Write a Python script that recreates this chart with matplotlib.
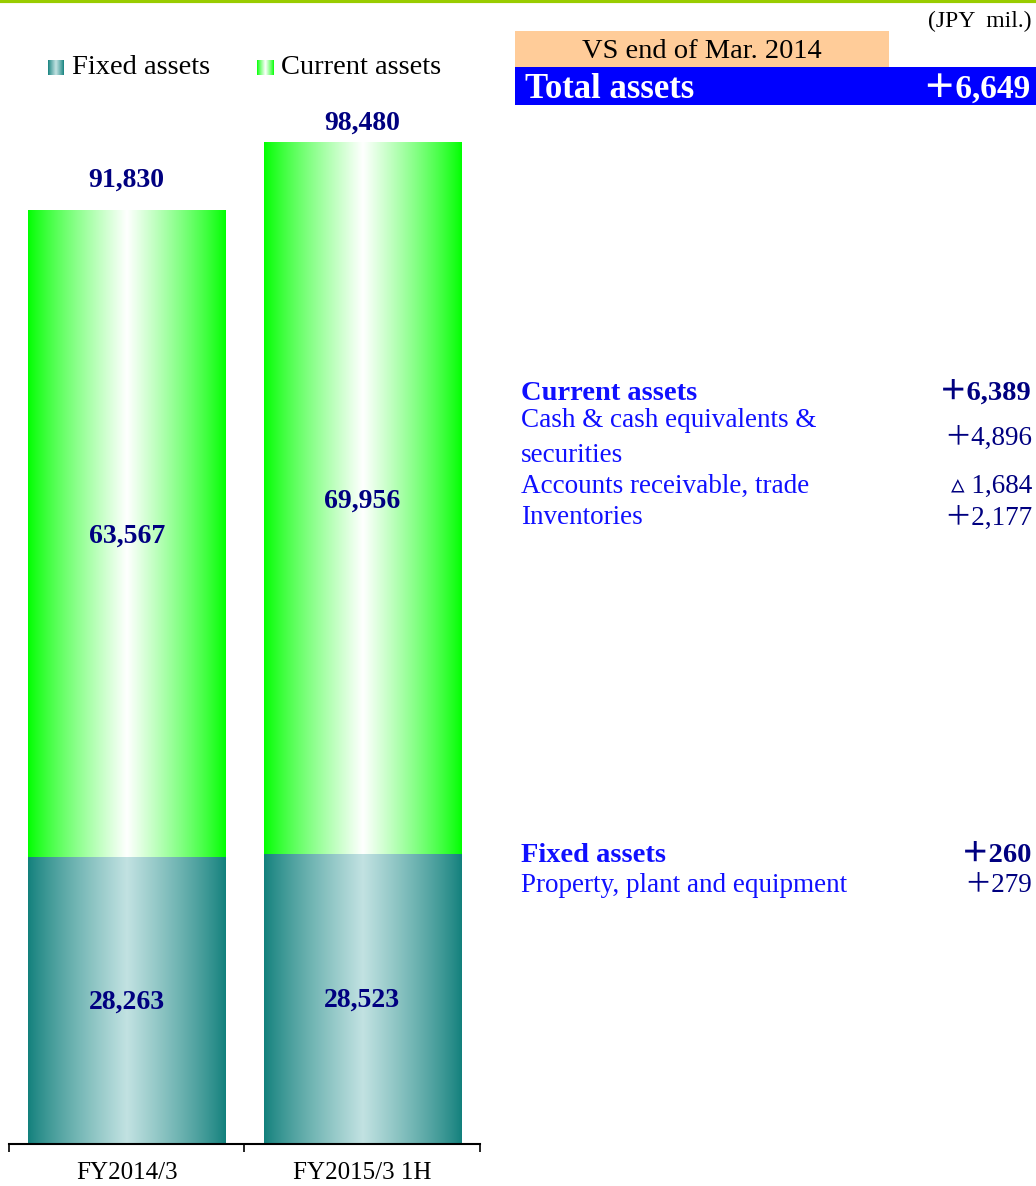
import numpy as np
import matplotlib.pyplot as plt
from matplotlib.patches import Rectangle
from matplotlib.colors import to_rgb

# data
periods = ['FY2014/3', 'FY2015/3 1H']
fixed = [28263, 28523]
current = [63567, 69956]
totals = [91830, 98480]

diff_total = '＋6,649'
diff_rows = [
    ('Current assets', '＋6,389', True),
    ('Cash & cash equivalents &\nsecurities', '＋4,896', False),
    ('Accounts receivable, trade', '▵ 1,684', False),
    ('Inventories', '＋2,177', False),
]
diff_rows_fixed = [
    ('Fixed assets', '＋260', True),
    ('Property, plant and equipment', '＋279', False),
]

W, H = 1036, 1186
fig = plt.figure(figsize=(W / 100, H / 100), dpi=100)
serif = ['Liberation Serif', 'Noto Sans CJK JP', 'DejaVu Sans']
navy = '#000080'
blue = '#1010ff'


def fx(x):
    return x / W


def fy(y):
    return 1 - y / H


def grad_img(edge, mid):
    t = np.linspace(0, 1, 256)
    w = 1 - np.abs(t - 0.5) * 2
    w = w ** 0.85
    edge = np.array(to_rgb(edge))
    mid = np.array(to_rgb(mid))
    row = edge[None, :] * (1 - w[:, None]) + mid[None, :] * w[:, None]
    return row[None, :, :]


fixed_grad = grad_img('#12807c', '#c2e2e2')
cur_grad = grad_img('#00ff00', '#ffffff')

# top green rule
fig.add_artist(plt.Line2D([0, 1], [fy(1), fy(1)], color='#99cc00', lw=3))

ax = fig.add_axes([fx(9), 42 / H, fx(471), (1144 - 110) / H])
bw = 0.838
top_offsets = [30, 20]  # label gap above bar, pixels
for i in range(len(periods)):
    x0 = i - bw / 2
    ax.imshow(fixed_grad, extent=[x0, x0 + bw, 0, fixed[i]], aspect='auto', zorder=2)
    ax.imshow(cur_grad, extent=[x0, x0 + bw, fixed[i], fixed[i] + current[i]], aspect='auto', zorder=2)
    ax.annotate(f'{fixed[i]:,}', (i, fixed[i] / 2), xytext=(0, -1), textcoords='offset points',
                ha='center', va='center', color=navy,
                fontsize=20, fontweight='bold', family=serif, zorder=3)
    ax.annotate(f'{current[i]:,}', (i, fixed[i] + current[i] / 2), xytext=(0, -2),
                textcoords='offset points', ha='center', va='center', color=navy,
                fontsize=20, fontweight='bold', family=serif, zorder=3)
    ax.annotate(f'{totals[i]:,}', (i, totals[i]), xytext=(0, top_offsets[i] * 0.72),
                textcoords='offset points', ha='center', va='center', color=navy,
                fontsize=20, fontweight='bold', family=serif, zorder=3)
ax.set_xlim(-0.5, 1.5)
ax.set_ylim(0, 101700)

for s in ['top', 'right', 'left']:
    ax.spines[s].set_visible(False)
ax.spines['bottom'].set_linewidth(1.5)
ax.set_yticks([])
ax.set_xticks([0, 1])
ax.set_xticklabels(periods, family=serif, fontsize=18)
ax.tick_params(axis='x', which='major', length=0, pad=13)
ax.set_xticks([-0.5, 0.5, 1.5], minor=True)
ax.tick_params(axis='x', which='minor', length=6, width=1.2, direction='out')

# legend
for (x, g, lab) in [(48, fixed_grad, 'Fixed assets'), (257, cur_grad, 'Current assets')]:
    sw = fig.add_axes([fx(x), fy(75), fx(16), 15 / H])
    sw.imshow(g, aspect='auto')
    sw.axis('off')
    fig.text(fx(x + 24), fy(68), lab, family=serif, fontsize=20.5, va='center', ha='left')

# right panel
fig.text(fx(1032), fy(21), '(JPY  mil.)', family=serif, fontsize=17, ha='right', va='center')
fig.add_artist(Rectangle((fx(515), fy(67)), fx(374), 36 / H, facecolor='#ffcc99', edgecolor='none'))
fig.text(fx(702), fy(51), 'VS end of Mar. 2014', family=serif, fontsize=20.5, ha='center', va='center')
fig.add_artist(Rectangle((fx(515), fy(105)), fx(521), 38 / H, facecolor='#0000ff', edgecolor='none'))
fig.text(fx(525), fy(89), 'Total assets', family=serif, fontsize=25, fontweight='bold',
         color='white', ha='left', va='center')
fig.text(fx(1030), fy(89), diff_total, family=serif, fontsize=24, fontweight='bold',
         color='white', ha='right', va='center')

ys = [393, 438, 486, 518]
for (lab, val, bold), y in zip(diff_rows, ys):
    w = 'bold' if bold else 'normal'
    fig.text(fx(521), fy(y), lab, family=serif, fontsize=20.5 if bold else 19.5, fontweight=w,
             color=blue, ha='left', va='center', linespacing=1.55)
    fig.text(fx(1032), fy(y), val, family=serif, fontsize=20.5 if bold else 19.5, fontweight=w,
             color=navy, ha='right', va='center')

for (lab, val, bold), y in zip(diff_rows_fixed, [855, 886]):
    w = 'bold' if bold else 'normal'
    fig.text(fx(521), fy(y), lab, family=serif, fontsize=20.5 if bold else 19.5, fontweight=w,
             color=blue, ha='left', va='center')
    fig.text(fx(1032), fy(y), val, family=serif, fontsize=20.5 if bold else 19.5, fontweight=w,
             color=navy, ha='right', va='center')

fig.savefig('out.png', dpi=100)
